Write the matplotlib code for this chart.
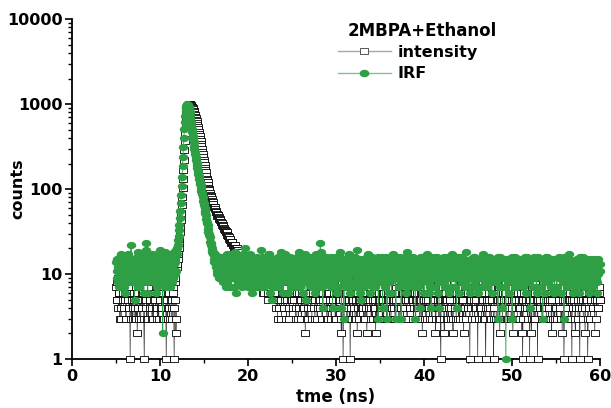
import numpy as np
import matplotlib
matplotlib.use("Agg")
import matplotlib.pyplot as plt
from matplotlib.lines import Line2D
from matplotlib.path import Path
from matplotlib.ticker import FixedLocator, FuncFormatter, MultipleLocator, LogLocator, NullFormatter

# channels every 0.05 ns from 5 ns; even channels (5.00, 5.10, ...) and
# odd channels (5.05, 5.15, ...) are listed separately
t0, dt = 5.0, 0.05

# IRF counts (green), even channels
irf_even = [
    14, 9, 12, 7, 16, 11, 8, 13, 10, 15, 6, 12, 9, 17, 11, 14, 8, 22, 13, 10,
    12, 5, 15, 9, 11, 18, 7, 13, 10, 16, 8, 12, 14, 9, 23, 11, 6, 15, 10, 13,
    9, 17, 11, 8, 14, 12, 7, 16, 10, 13, 19, 9, 12, 2, 15, 11, 8, 14, 10, 17,
    12, 7, 16, 11, 13, 9, 18, 14, 11, 17, 22, 28, 38, 55, 85, 140, 240, 400, 620, 830,
    960, 1000, 965, 870, 735, 610, 515, 420, 358, 296, 257, 218, 192, 163, 144, 121, 111, 96, 87, 73,
    65, 55, 49, 41, 38, 31, 29, 24, 23, 19, 18, 15, 16, 13, 15, 11, 14, 9, 13, 16,
    11, 13, 8, 15, 10, 7, 17, 9, 14, 11, 7, 13, 16, 10, 12, 18, 6, 11, 14, 8,
    13, 10, 16, 7, 9, 15, 11, 20, 8, 13, 10, 14, 17, 11, 6, 12, 15, 9, 7, 11,
    16, 8, 12, 14, 10, 19, 7, 13, 7, 15, 12, 9, 14, 11, 17, 6, 13, 5, 12, 15,
    10, 14, 8, 12, 16, 7, 8, 13, 18, 10, 6, 15, 9, 14, 11, 6, 13, 10, 16, 7,
    9, 13, 11, 15, 7, 12, 14, 8, 18, 11, 13, 8, 16, 6, 10, 14, 5, 11, 15, 9,
    12, 16, 7, 13, 9, 14, 6, 17, 8, 12, 15, 10, 23, 13, 7, 4, 14, 9, 12, 16,
    11, 8, 13, 15, 7, 12, 4, 14, 9, 16, 12, 6, 7, 13, 10, 18, 4, 12, 14, 3,
    13, 7, 15, 9, 12, 17, 6, 14, 8, 13, 11, 16, 7, 12, 19, 9, 14, 6, 5, 13,
    10, 15, 7, 9, 14, 11, 17, 8, 13, 6, 10, 16, 11, 14, 7, 12, 15, 8, 3, 13,
    12, 9, 16, 4, 11, 14, 7, 13, 3, 15, 11, 8, 14, 6, 10, 17, 9, 13, 3, 11,
    14, 7, 12, 16, 3, 11, 13, 9, 15, 6, 10, 18, 8, 14, 8, 13, 12, 7, 16, 9,
    3, 12, 15, 7, 13, 4, 11, 16, 9, 14, 6, 10, 13, 17, 11, 8, 15, 7, 4, 10,
    13, 7, 16, 9, 12, 14, 6, 4, 15, 11, 13, 8, 12, 16, 7, 14, 11, 9, 6, 15,
    10, 7, 17, 11, 14, 9, 13, 4, 12, 15, 6, 11, 16, 8, 9, 12, 14, 7, 18, 11,
    13, 9, 6, 15, 10, 14, 7, 16, 8, 12, 13, 6, 15, 11, 14, 9, 7, 17, 10, 13,
    11, 14, 7, 12, 16, 9, 13, 6, 15, 10, 12, 14, 8, 13, 3, 11, 16, 7, 12, 4,
    14, 11, 7, 1, 10, 15, 12, 6, 14, 11, 3, 13, 8, 16, 12, 7, 14, 9, 13, 10,
    12, 15, 7, 13, 9, 14, 6, 16, 12, 8, 13, 4, 10, 15, 7, 14, 9, 11, 6, 16,
    10, 12, 14, 7, 9, 3, 13, 15, 6, 12, 16, 8, 14, 10, 7, 9, 12, 15, 6, 14,
    13, 7, 12, 16, 11, 14, 6, 13, 9, 3, 15, 10, 7, 14, 12, 17, 8, 13, 9, 6,
    11, 14, 7, 13, 15, 12, 6, 16, 11, 8, 10, 14, 7, 11, 15, 9, 13, 6, 12, 14,
    12, 7, 13, 15, 11, 9, 14, 6, 10, 13, 11,
]

# IRF counts, odd channels
irf_odd = [
    11, 15, 8, 13, 10, 17, 12, 9, 14, 7, 13, 10, 16, 8, 12, 15, 11, 9, 14, 12,
    8, 14, 10, 16, 7, 12, 15, 9, 13, 11, 17, 6, 13, 10, 19, 8, 14, 12, 9, 16,
    12, 8, 15, 10, 13, 6, 17, 11, 14, 9, 12, 16, 8, 13, 10, 18, 7, 12, 15, 11,
    9, 14, 12, 8, 16, 13, 10, 15, 19, 20, 25, 33, 46, 68, 110, 185, 310, 510, 730, 900,
    990, 990, 920, 800, 670, 560, 465, 385, 325, 275, 237, 205, 176, 152, 132, 116, 103, 91, 80, 69,
    60, 52, 45, 40, 34, 30, 27, 22, 20, 18, 17, 14, 17, 12, 10, 15, 13, 11, 16, 12,
    14, 9, 12, 16, 11, 13, 8, 15, 10, 12, 17, 9, 14, 11, 7, 13, 15, 10, 12, 16,
    9, 14, 11, 13, 17, 8, 12, 10, 15, 7, 14, 12, 9, 16, 11, 13, 8, 15, 12, 10,
    13, 11, 15, 7, 12, 9, 16, 10, 14, 12, 8, 13, 11, 17, 9, 12, 15, 10, 7, 14,
    12, 9, 15, 11, 7, 14, 12, 10, 16, 8, 13, 11, 17, 9, 12, 14, 8, 15, 11, 13,
    15, 10, 8, 13, 12, 16, 9, 14, 11, 7, 15, 12, 10, 13, 17, 8, 12, 14, 9, 11,
    10, 13, 15, 8, 12, 11, 16, 9, 14, 10, 7, 13, 18, 11, 15, 9, 12, 16, 8, 13,
    14, 12, 9, 11, 16, 8, 13, 10, 15, 7, 12, 14, 11, 9, 16, 12, 10, 13, 8, 15,
    9, 12, 11, 14, 7, 13, 15, 10, 12, 16, 8, 11, 14, 9, 13, 12, 7, 15, 10, 12,
    13, 8, 12, 15, 10, 16, 9, 13, 11, 14, 12, 7, 15, 10, 12, 9, 13, 16, 11, 8,
    11, 14, 10, 13, 8, 12, 16, 9, 14, 11, 6, 13, 10, 15, 12, 9, 14, 11, 13, 16,
    10, 13, 15, 8, 12, 14, 9, 11, 16, 12, 7, 13, 10, 15, 11, 9, 14, 12, 8, 13,
    15, 9, 11, 14, 10, 12, 16, 8, 13, 11, 15, 9, 12, 10, 14, 6, 11, 16, 12, 9,
    11, 14, 9, 12, 16, 10, 13, 8, 12, 15, 9, 14, 11, 7, 13, 12, 16, 10, 14, 11,
    13, 11, 9, 15, 12, 7, 14, 10, 16, 12, 9, 13, 11, 14, 10, 15, 8, 12, 13, 10,
    10, 14, 12, 9, 13, 11, 16, 10, 14, 7, 12, 15, 9, 13, 11, 16, 12, 10, 14, 8,
    14, 10, 13, 16, 9, 12, 11, 15, 8, 13, 10, 14, 12, 9, 16, 11, 7, 13, 15, 10,
    9, 13, 12, 15, 11, 8, 14, 10, 12, 16, 9, 13, 11, 7, 14, 12, 10, 15, 8, 12,
    11, 9, 14, 12, 16, 10, 13, 8, 15, 11, 12, 14, 9, 13, 10, 16, 12, 7, 14, 11,
    13, 15, 9, 12, 11, 14, 10, 13, 16, 8, 12, 11, 14, 9, 15, 12, 10, 13, 7, 11,
    10, 12, 15, 9, 13, 11, 14, 8, 12, 16, 10, 13, 11, 9, 15, 12, 14, 10, 13, 8,
    14, 9, 12, 11, 8, 15, 13, 10, 14, 12, 16, 9, 13, 11, 10, 14, 8, 12, 15, 11,
    9, 13, 11, 14, 10, 12, 8, 15, 11, 13,
]

# sample decay counts (open squares), even channels
intensity_even = [
    7, 5, 9, 6, 3, 8, 4, 10, 6, 7, 5, 3, 8, 6, 9, 4, 1, 7, 5, 3,
    6, 8, 4, 3, 2, 7, 5, 9, 3, 6, 4, 8, 1, 5, 7, 3, 6, 10, 4, 5,
    8, 3, 6, 5, 9, 4, 7, 3, 6, 11, 5, 8, 4, 6, 3, 7, 9, 1, 5, 4,
    6, 3, 8, 5, 4, 7, 1, 9, 2, 12, 15, 20, 26, 36, 52, 80, 130, 220, 370, 560,
    740, 880, 960, 1000, 995, 970, 935, 890, 835, 775, 715, 655, 595, 535, 475, 420, 365, 318, 275, 238,
    207, 176, 158, 133, 122, 104, 98, 85, 81, 72, 70, 62, 61, 55, 54, 48, 49, 45, 45, 41,
    40, 37, 37, 34, 33, 31, 31, 28, 27, 25, 26, 23, 24, 22, 21, 22, 19, 20, 18, 19,
    17, 16, 18, 14, 15, 13, 16, 12, 14, 11, 13, 12, 10, 14, 11, 9, 13, 10, 12, 8,
    11, 9, 12, 7, 10, 13, 8, 11, 6, 9, 12, 7, 10, 5, 11, 8, 9, 6, 12, 7,
    9, 6, 4, 10, 7, 5, 11, 8, 3, 6, 9, 4, 7, 12, 5, 8, 6, 3, 10, 7,
    5, 8, 6, 11, 4, 7, 9, 3, 6, 10, 5, 8, 4, 7, 6, 2, 9, 5, 3, 8,
    6, 4, 9, 7, 5, 12, 3, 8, 6, 4, 10, 7, 5, 9, 3, 6, 8, 4, 11, 5,
    7, 3, 6, 9, 4, 8, 5, 10, 6, 3, 7, 4, 9, 5, 6, 8, 2, 4, 1, 7,
    5, 8, 4, 6, 9, 3, 1, 7, 5, 10, 4, 6, 8, 3, 2, 7, 5, 9, 4, 6,
    8, 4, 6, 3, 7, 2, 5, 9, 4, 6, 3, 8, 5, 7, 4, 2, 6, 10, 3, 5,
    7, 4, 9, 5, 3, 6, 8, 4, 11, 5, 7, 3, 6, 9, 4, 8, 5, 3, 7, 6,
    4, 8, 5, 7, 3, 9, 6, 4, 10, 5, 7, 3, 8, 6, 4, 9, 5, 7, 3, 6,
    8, 5, 4, 7, 9, 3, 6, 5, 2, 8, 4, 7, 6, 3, 10, 5, 4, 8, 6, 3,
    7, 5, 9, 2, 6, 4, 8, 3, 5, 1, 7, 4, 6, 2, 9, 5, 3, 7, 4, 8,
    5, 3, 6, 2, 8, 4, 7, 5, 9, 3, 6, 4, 8, 5, 3, 2, 7, 4, 6, 9,
    4, 7, 1, 5, 8, 3, 6, 9, 4, 5, 7, 1, 3, 6, 8, 4, 5, 7, 3, 6,
    1, 5, 8, 4, 6, 3, 7, 5, 9, 1, 4, 6, 3, 8, 5, 7, 2, 4, 6, 3,
    7, 4, 6, 9, 3, 5, 8, 4, 6, 3, 7, 2, 5, 8, 4, 6, 3, 9, 5, 4,
    6, 2, 1, 5, 7, 4, 8, 6, 3, 5, 1, 4, 2, 7, 5, 3, 6, 8, 4, 1,
    5, 7, 4, 6, 3, 8, 5, 4, 7, 3, 6, 9, 4, 5, 8, 2, 6, 3, 7, 4,
    6, 3, 8, 5, 4, 7, 3, 2, 6, 1, 5, 8, 4, 6, 3, 7, 5, 9, 1, 4,
    7, 5, 2, 4, 6, 3, 8, 1, 5, 4, 7, 3, 6, 2, 5, 8, 1, 4, 6, 3,
    5, 7, 4, 6, 2, 8, 3, 5, 4, 6, 5,
]

# sample decay counts, odd channels
intensity_odd = [
    5, 8, 4, 6, 9, 3, 7, 5, 4, 8, 6, 3, 7, 5, 4, 6, 9, 3, 6, 4,
    5, 3, 7, 6, 4, 9, 3, 5, 8, 4, 6, 3, 7, 5, 4, 8, 3, 6, 5, 7,
    4, 6, 3, 8, 5, 7, 4, 6, 3, 5, 9, 4, 6, 3, 8, 5, 4, 7, 3, 6,
    4, 7, 5, 3, 6, 4, 8, 5, 3, 13, 17, 23, 31, 43, 65, 103, 170, 290, 460, 650,
    815, 925, 985, 1000, 985, 955, 915, 865, 805, 745, 685, 625, 565, 505, 448, 392, 340, 296, 256, 222,
    191, 167, 144, 127, 113, 101, 91, 83, 76, 71, 66, 62, 58, 54, 51, 50, 47, 46, 43, 41,
    38, 38, 35, 33, 32, 30, 29, 28, 26, 25, 24, 24, 22, 21, 22, 20, 20, 19, 18, 17,
    16, 17, 15, 15, 14, 14, 13, 13, 12, 12, 11, 13, 11, 10, 12, 10, 9, 11, 9, 10,
    10, 8, 11, 9, 7, 10, 9, 6, 10, 8, 7, 11, 6, 9, 8, 7, 10, 6, 8, 9,
    5, 8, 6, 3, 9, 4, 7, 5, 10, 6, 4, 8, 5, 3, 7, 6, 4, 9, 5, 6,
    7, 4, 5, 8, 3, 6, 9, 4, 5, 7, 3, 6, 8, 4, 5, 7, 3, 6, 4, 8,
    5, 7, 3, 6, 8, 4, 5, 9, 3, 7, 5, 4, 6, 8, 3, 5, 7, 4, 6, 3,
    6, 4, 8, 5, 3, 7, 4, 6, 9, 5, 3, 6, 10, 7, 5, 3, 8, 5, 4, 6,
    4, 6, 3, 7, 5, 8, 4, 10, 3, 5, 7, 3, 5, 9, 4, 6, 3, 5, 7, 4,
    6, 3, 5, 8, 4, 6, 9, 7, 5, 4, 9, 3, 6, 4, 5, 7, 3, 10, 6, 4,
    5, 7, 3, 6, 4, 8, 5, 3, 6, 9, 5, 8, 3, 7, 5, 4, 6, 3, 5, 8,
    6, 3, 7, 4, 10, 6, 3, 8, 4, 6, 3, 5, 7, 4, 6, 9, 8, 5, 4, 6,
    3, 6, 5, 4, 7, 5, 3, 6, 4, 5, 8, 3, 5, 7, 4, 6, 3, 9, 4, 7,
    5, 4, 6, 3, 8, 5, 4, 6, 3, 5, 4, 7, 3, 5, 6, 4, 5, 3, 6, 5,
    4, 8, 3, 6, 10, 7, 3, 6, 9, 5, 3, 7, 4, 8, 5, 6, 9, 3, 7, 4,
    6, 9, 5, 4, 7, 10, 5, 3, 8, 4, 6, 9, 6, 4, 7, 3, 8, 5, 10, 3,
    4, 7, 9, 5, 4, 8, 3, 6, 10, 3, 6, 8, 5, 3, 7, 9, 5, 4, 8, 6,
    5, 8, 6, 4, 9, 3, 7, 6, 10, 5, 4, 8, 3, 7, 5, 9, 6, 4, 7, 3,
    8, 5, 3, 6, 9, 5, 7, 4, 6, 10, 5, 4, 3, 6, 8, 5, 3, 9, 5, 6,
    7, 5, 9, 6, 3, 8, 4, 7, 6, 9, 5, 3, 6, 8, 3, 5, 9, 6, 3, 7,
    4, 9, 6, 5, 8, 3, 6, 7, 5, 3, 8, 6, 4, 9, 5, 6, 3, 8, 5, 7,
    9, 3, 6, 8, 5, 7, 4, 6, 9, 4, 5, 7, 6, 4, 8, 5, 3, 6, 9, 5,
    6, 8, 4, 7, 5, 9, 6, 4, 7, 5,
]

y_ticks = [1, 10, 100, 1000, 10000]
x_ticks = [0, 10, 20, 30, 40, 50, 60]
legend_title = "2MBPA+Ethanol"
series_names = ["intensity", "IRF"]

green = "#2f9f45"


def merge(even, odd):
    out = np.empty(len(even) + len(odd))
    out[0::2] = even
    out[1::2] = odd
    return out


irf = merge(irf_even, irf_odd)
intensity = merge(intensity_even, intensity_odd)
t_irf = t0 + dt * np.arange(len(irf))
t_int = t0 + dt * np.arange(len(intensity))

# the original picture is stretched sideways, so markers are a bit wide
a = 1.45
sq_marker = Path([(-a, -1), (a, -1), (a, 1), (-a, 1), (-a, -1)],
                 [Path.MOVETO, Path.LINETO, Path.LINETO, Path.LINETO, Path.CLOSEPOLY])
ang = np.linspace(0, 2 * np.pi, 40)
el_marker = Path(np.column_stack([1.3 * np.cos(ang), np.sin(ang)]), closed=True)

plt.rcParams["font.family"] = "DejaVu Sans"
plt.rcParams["font.weight"] = "bold"
plt.rcParams["axes.labelweight"] = "bold"

fig = plt.figure(figsize=(6.11, 4.08), dpi=100)
ax = fig.add_axes([0.118, 0.120, 0.864, 0.833])

ax.plot(t_int, intensity, color="#333333", lw=0.5, zorder=2, clip_on=False)
ax.plot(t_int, intensity, ls="none", marker=sq_marker, ms=5.9, mfc="white",
        mec="black", mew=0.6, zorder=3, clip_on=False)
ax.plot(t_irf, irf, color=green, lw=0.6, zorder=4, clip_on=False)
ax.plot(t_irf, irf, ls="none", marker=el_marker, ms=6.8, mfc=green, mec=green,
        mew=0, zorder=5, clip_on=False)

ax.set_yscale("log")
ax.set_xlim(0, 60)
ax.set_ylim(1, 10000)

ax.yaxis.set_major_locator(FixedLocator(y_ticks))
ax.yaxis.set_major_formatter(FuncFormatter(lambda v, p: "%d" % v))
ax.yaxis.set_minor_locator(LogLocator(base=10, subs=np.arange(2, 10)))
ax.yaxis.set_minor_formatter(NullFormatter())
ax.xaxis.set_major_locator(FixedLocator(x_ticks))
ax.xaxis.set_minor_locator(MultipleLocator(5))

for s in ["top", "right"]:
    ax.spines[s].set_visible(False)
for s in ["left", "bottom"]:
    ax.spines[s].set_linewidth(1.3)

ax.tick_params(which="major", direction="out", length=5, width=1.2, labelsize=11.5, pad=2)
ax.tick_params(which="minor", direction="out", length=3, width=1.0)

ax.set_xlabel("tme (ns)", fontsize=12, labelpad=3)
ax.set_ylabel("counts", fontsize=11.5)
ax.yaxis.set_label_coords(-0.088, 0.5)

handles = [
    Line2D([], [], color="#a8a8a8", lw=1.0, marker=sq_marker, ms=5.5, mfc="white", mec="#555555", mew=0.7),
    Line2D([], [], color="#7cc48a", lw=1.0, marker=el_marker, ms=7, mfc=green, mec=green, mew=0),
]
leg = ax.legend(handles, series_names, loc="upper left",
                bbox_to_anchor=(0.532, 0.922), bbox_transform=fig.transFigure,
                frameon=False, fontsize=11.5,
                handlelength=3.3, handletextpad=0.45, labelspacing=0.42, borderpad=0.3)
fig.text(348 / 611, 1 - 31 / 408, legend_title, fontsize=12, fontweight="bold",
         ha="left", va="center")

fig.savefig("out.png", dpi=100)
